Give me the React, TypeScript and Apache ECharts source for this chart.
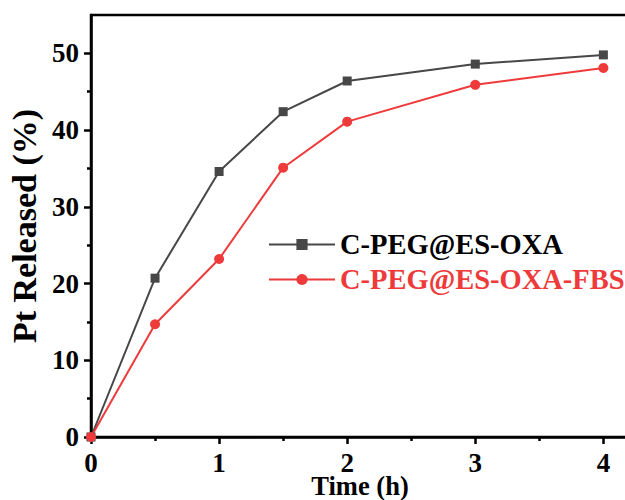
import React, { useEffect, useRef } from "react";
import * as echarts from "echarts";

const timeH = [0, 0.5, 1, 1.5, 2, 3, 4];
const oxaValues = [0, 20.7, 34.6, 42.4, 46.4, 48.6, 49.8];
const fbsValues = [0, 14.7, 23.2, 35.1, 41.1, 45.9, 48.1];
const seriesNames = ["C-PEG@ES-OXA", "C-PEG@ES-OXA-FBS"];
const xMajor = [0, 1, 2, 3, 4];
const xMinor = [0.5, 1.5, 2.5, 3.5];
const yMajor = [0, 10, 20, 30, 40, 50];
const yMinor = [5, 15, 25, 35, 45];

const FONT = "'Liberation Serif', 'Times New Roman', serif";
const GRAY = "#474747";
const RED = "#ee3a3a";

export default function App() {
  const ref = useRef<HTMLDivElement>(null);
  useEffect(() => {
    document.body.style.margin = "0";
    const chart = echarts.init(ref.current!, undefined, { renderer: "svg" });
    const pairs = (ys: number[]) => timeH.map((x, i) => [x, ys[i]]);
    const axisLine = { show: true, lineStyle: { color: "#000", width: 2.5 } };
    const label = { fontFamily: FONT, fontWeight: "bold", fontSize: 27, color: "#000" };
    chart.setOption({
      animation: false,
      backgroundColor: "#fff",
      grid: {
        left: 91,
        top: 15,
        bottom: 63,
        right: -4,
        outerBoundsMode: "none",
        containLabel: false,
        show: true,
        borderColor: "#000",
        borderWidth: 2.5,
      },
      legend: {
        left: 268,
        top: 230,
        padding: 0,
        orient: "vertical",
        itemWidth: 66,
        itemHeight: 14,
        itemGap: 6,
        textStyle: { fontFamily: FONT, fontWeight: "bold", fontSize: 28.5, lineHeight: 28 },
        data: [
          { name: seriesNames[0], textStyle: { color: "#000" } },
          { name: seriesNames[1], textStyle: { color: RED } },
        ],
      },
      xAxis: [
        {
          type: "value",
          min: 0,
          max: 4.2,
          interval: 1,
          axisLine,
          splitLine: { show: false },
          axisTick: { show: true, length: 7, lineStyle: { width: 2.5, color: "#000" }, customValues: xMajor },
          axisLabel: { ...label, margin: 16, lineHeight: 20, customValues: xMajor },
          name: "Time (h)",
          nameLocation: "middle",
          nameGap: 38,
          nameMoveOverlap: false,
          nameTextStyle: { fontFamily: FONT, fontWeight: "bold", fontSize: 26.5, color: "#000", lineHeight: 22 },
        },
        {
          type: "value",
          min: 0,
          max: 4.2,
          interval: 1,
          axisLine: { show: false },
          splitLine: { show: false },
          axisTick: { show: true, inside: true, length: 4, lineStyle: { width: 2.5, color: "#000" }, customValues: xMinor },
          axisLabel: { show: false },
        },
      ],
      yAxis: [
        {
          type: "value",
          min: 0,
          max: 55,
          interval: 10,
          axisLine,
          splitLine: { show: false },
          axisTick: { show: true, length: 7, lineStyle: { width: 2.5, color: "#000" }, customValues: yMajor },
          axisLabel: { ...label, margin: 12, customValues: yMajor },
          name: "Pt Released (%)",
          nameLocation: "middle",
          nameGap: 50,
          nameMoveOverlap: false,
          nameTextStyle: { fontFamily: FONT, fontWeight: "bold", fontSize: 34, color: "#000" },
        },
        {
          type: "value",
          min: 0,
          max: 55,
          interval: 10,
          axisLine: { show: false },
          splitLine: { show: false },
          axisTick: { show: true, inside: true, length: 4, lineStyle: { width: 2.5, color: "#000" }, customValues: yMinor },
          axisLabel: { show: false },
        },
      ],
      series: [
        {
          name: seriesNames[0],
          type: "line",
          data: pairs(oxaValues),
          symbol: "rect",
          symbolSize: 9,
          itemStyle: { color: GRAY },
          lineStyle: { color: GRAY, width: 2 },
        },
        {
          name: seriesNames[1],
          type: "line",
          data: pairs(fbsValues),
          symbol: "circle",
          symbolSize: 10,
          itemStyle: { color: RED },
          lineStyle: { color: RED, width: 2 },
        },
      ],
    });
    return () => chart.dispose();
  }, []);
  return <div ref={ref} style={{ width: 625, height: 500 }} />;
}
